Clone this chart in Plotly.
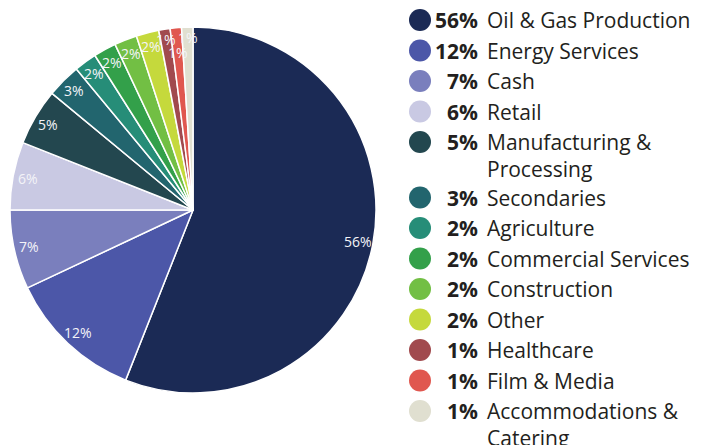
import math
import plotly.graph_objects as go

categories = ["Oil & Gas Production", "Energy Services", "Cash", "Retail",
              "Manufacturing &<br>Processing", "Secondaries", "Agriculture",
              "Commercial Services", "Construction", "Other", "Healthcare",
              "Film & Media", "Accommodations &<br>Catering"]
values = [56, 12, 7, 6, 5, 3, 2, 2, 2, 2, 1, 1, 1]
colors = ["#1b2a55", "#4c57a8", "#7a7fbd", "#c9c9e3", "#23474f", "#22656e",
          "#268d78", "#33a04a", "#72bf44", "#c5d93c", "#a14a4e", "#e0574f",
          "#e0dfd0"]

WIN_W, WIN_H = 710, 445
OFF = 8  # page body margin
W, H = WIN_W - OFF, WIN_H - OFF
CX, CY, R = 193, 210, 183  # window pixel coords


def fx(px):
    return (px - OFF) / W


def fy(py):
    return 1 - (py - OFF) / H


fig = go.Figure()
fig.add_trace(go.Pie(
    labels=[c.replace("<br>", " ") for c in categories], values=values,
    marker=dict(colors=colors, line=dict(color="white", width=1.5)),
    sort=False, direction="clockwise", rotation=0,
    textinfo="none", hoverinfo="label+percent", showlegend=False,
    domain=dict(x=[fx(CX - R), fx(CX + R)], y=[fy(CY + R), fy(CY - R)]),
))

total = sum(values)
annots = []
cum = 0
alt = False
for v in values:
    mid = (cum + v / 2) / total * 2 * math.pi
    cum += v
    if v / total < 0.015:
        rf = 0.865 if alt else 0.945
        alt = not alt
    else:
        rf = 0.92
        alt = False
    annots.append(dict(x=CX + rf * R * math.sin(mid), y=CY - rf * R * math.cos(mid),
                       xref="x", yref="y", text=f"{round(v / total * 100)}%",
                       showarrow=False, xanchor="center", yanchor="middle",
                       font=dict(color="#f4f4f8", size=14, family="Open Sans")))

# legend rows
rows = []
y = 20
for c in categories:
    rows.append(y)
    y += 30.5 + 25 * c.count("<br>")

fig.add_trace(go.Scatter(x=[420] * len(rows), y=rows, mode="markers",
                         marker=dict(size=22, color=colors, line=dict(width=0)),
                         hoverinfo="skip", showlegend=False))

for c, v, yy in zip(categories, values, rows):
    annots.append(dict(x=480, y=yy, xref="x", yref="y", text=f"<b>{round(v / total * 100)}%</b>",
                       showarrow=False, xanchor="right", yanchor="middle",
                       font=dict(size=21, color="#231f20", family="Open Sans")))
    nl = c.count("<br>")
    annots.append(dict(x=485, y=yy + 13 * nl, xref="x", yref="y", text=c,
                       showarrow=False, xanchor="left", yanchor="middle", align="left",
                       font=dict(size=21, color="#231f20", family="Open Sans")))

fig.update_layout(
    width=W, height=H, margin=dict(l=0, r=0, t=0, b=0),
    paper_bgcolor="white", plot_bgcolor="rgba(0,0,0,0)",
    xaxis=dict(range=[OFF, WIN_W], visible=False, fixedrange=True, domain=[0, 1]),
    yaxis=dict(range=[WIN_H, OFF], visible=False, fixedrange=True, domain=[0, 1]),
    annotations=annots,
)
fig.write_html("out.html")
